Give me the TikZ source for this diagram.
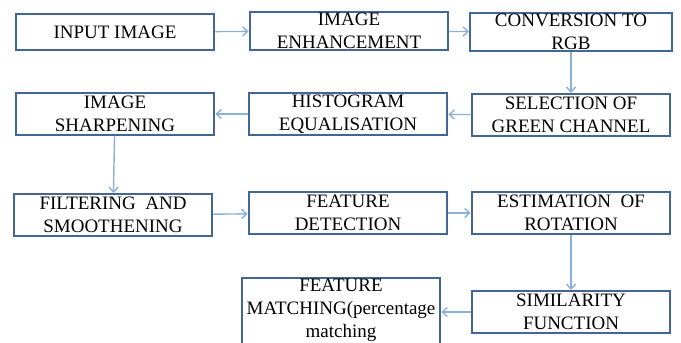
\documentclass[tikz,border=0pt]{standalone}
\usepackage{fontspec}
\setmainfont{Liberation Serif}
\usetikzlibrary{arrows.meta}
\definecolor{boxblue}{RGB}{66,102,150}
\definecolor{arrowblue}{RGB}{140,176,220}

\begin{document}
\begin{tikzpicture}[x=0.025cm, y=-0.025cm,
        >={Straight Barb[length=3.5pt,width=6.5pt]},
        box/.style={draw=boxblue, line width=1.4pt, minimum width=4.97cm, minimum height=1.05cm, inner sep=0pt},
        txt/.style={align=center, inner sep=0pt, text=black, font=\fontsize{13.5}{16.5}\selectfont},
        arr/.style={->, draw=arrowblue, line width=1pt}]
        \useasboundingbox (0,0) rectangle (681,342);
        \fill[white] (0,0) rectangle (681,342);
        % first row
        \node[box, minimum height=0.9cm] (input) at (115,32) {};
        \node[txt] at (input) {INPUT IMAGE};
        \node[box, minimum height=0.95cm] (enh) at (349,31) {};
        \node[txt] at (enh) {IMAGE\\ENHANCEMENT};
        \node[box, minimum height=0.95cm, minimum width=5.05cm] (conv) at (571,32) {};
        \node[txt] at (conv) {CONVERSION TO\\RGB};
        % second row
        \node[box] (sel) at (571,115) {};
        \node[txt] at (sel) {SELECTION OF\\GREEN CHANNEL};
        \node[box] (hist) at (348,114) {};
        \node[txt] at (hist) {HISTOGRAM\\EQUALISATION};
        \node[box] (sharp) at (115,114) {};
        \node[txt] at (sharp) {IMAGE\\SHARPENING};
        % third row
        \node[box] (filt) at (113,215) {};
        \node[txt] at (filt) {FILTERING~ AND\\SMOOTHENING};
        \node[box] (feat) at (348,213) {};
        \node[txt] at (feat) {FEATURE\\DETECTION};
        \node[box] (est) at (571,213) {};
        \node[txt] at (est) {ESTIMATION~ OF\\ROTATION};
        % last row
        \node[box] (sim) at (571,312) {};
        \node[txt] at (sim) {SIMILARITY\\FUNCTION};
        \node[box, minimum height=1.75cm] (match) at (341,313) {};
        \node[txt] at ([yshift=2pt]match) {FEATURE\\MATCHING(percentage\\matching};

        \draw[arr] (input) -- (enh);
        \draw[arr] (enh) -- (conv);
        \draw[arr] (conv) -- (sel);
        \draw[arr] (sel) -- (hist);
        \draw[arr] (hist) -- (sharp);
        \draw[arr] (sharp) -- (filt);
        \draw[arr] (filt) -- (feat);
        \draw[arr] (feat) -- (est);
        \draw[arr] (est) -- (sim);
        \draw[arr] (sim.west) -- (sim.west -| match.east);
    \end{tikzpicture}
\end{document}
